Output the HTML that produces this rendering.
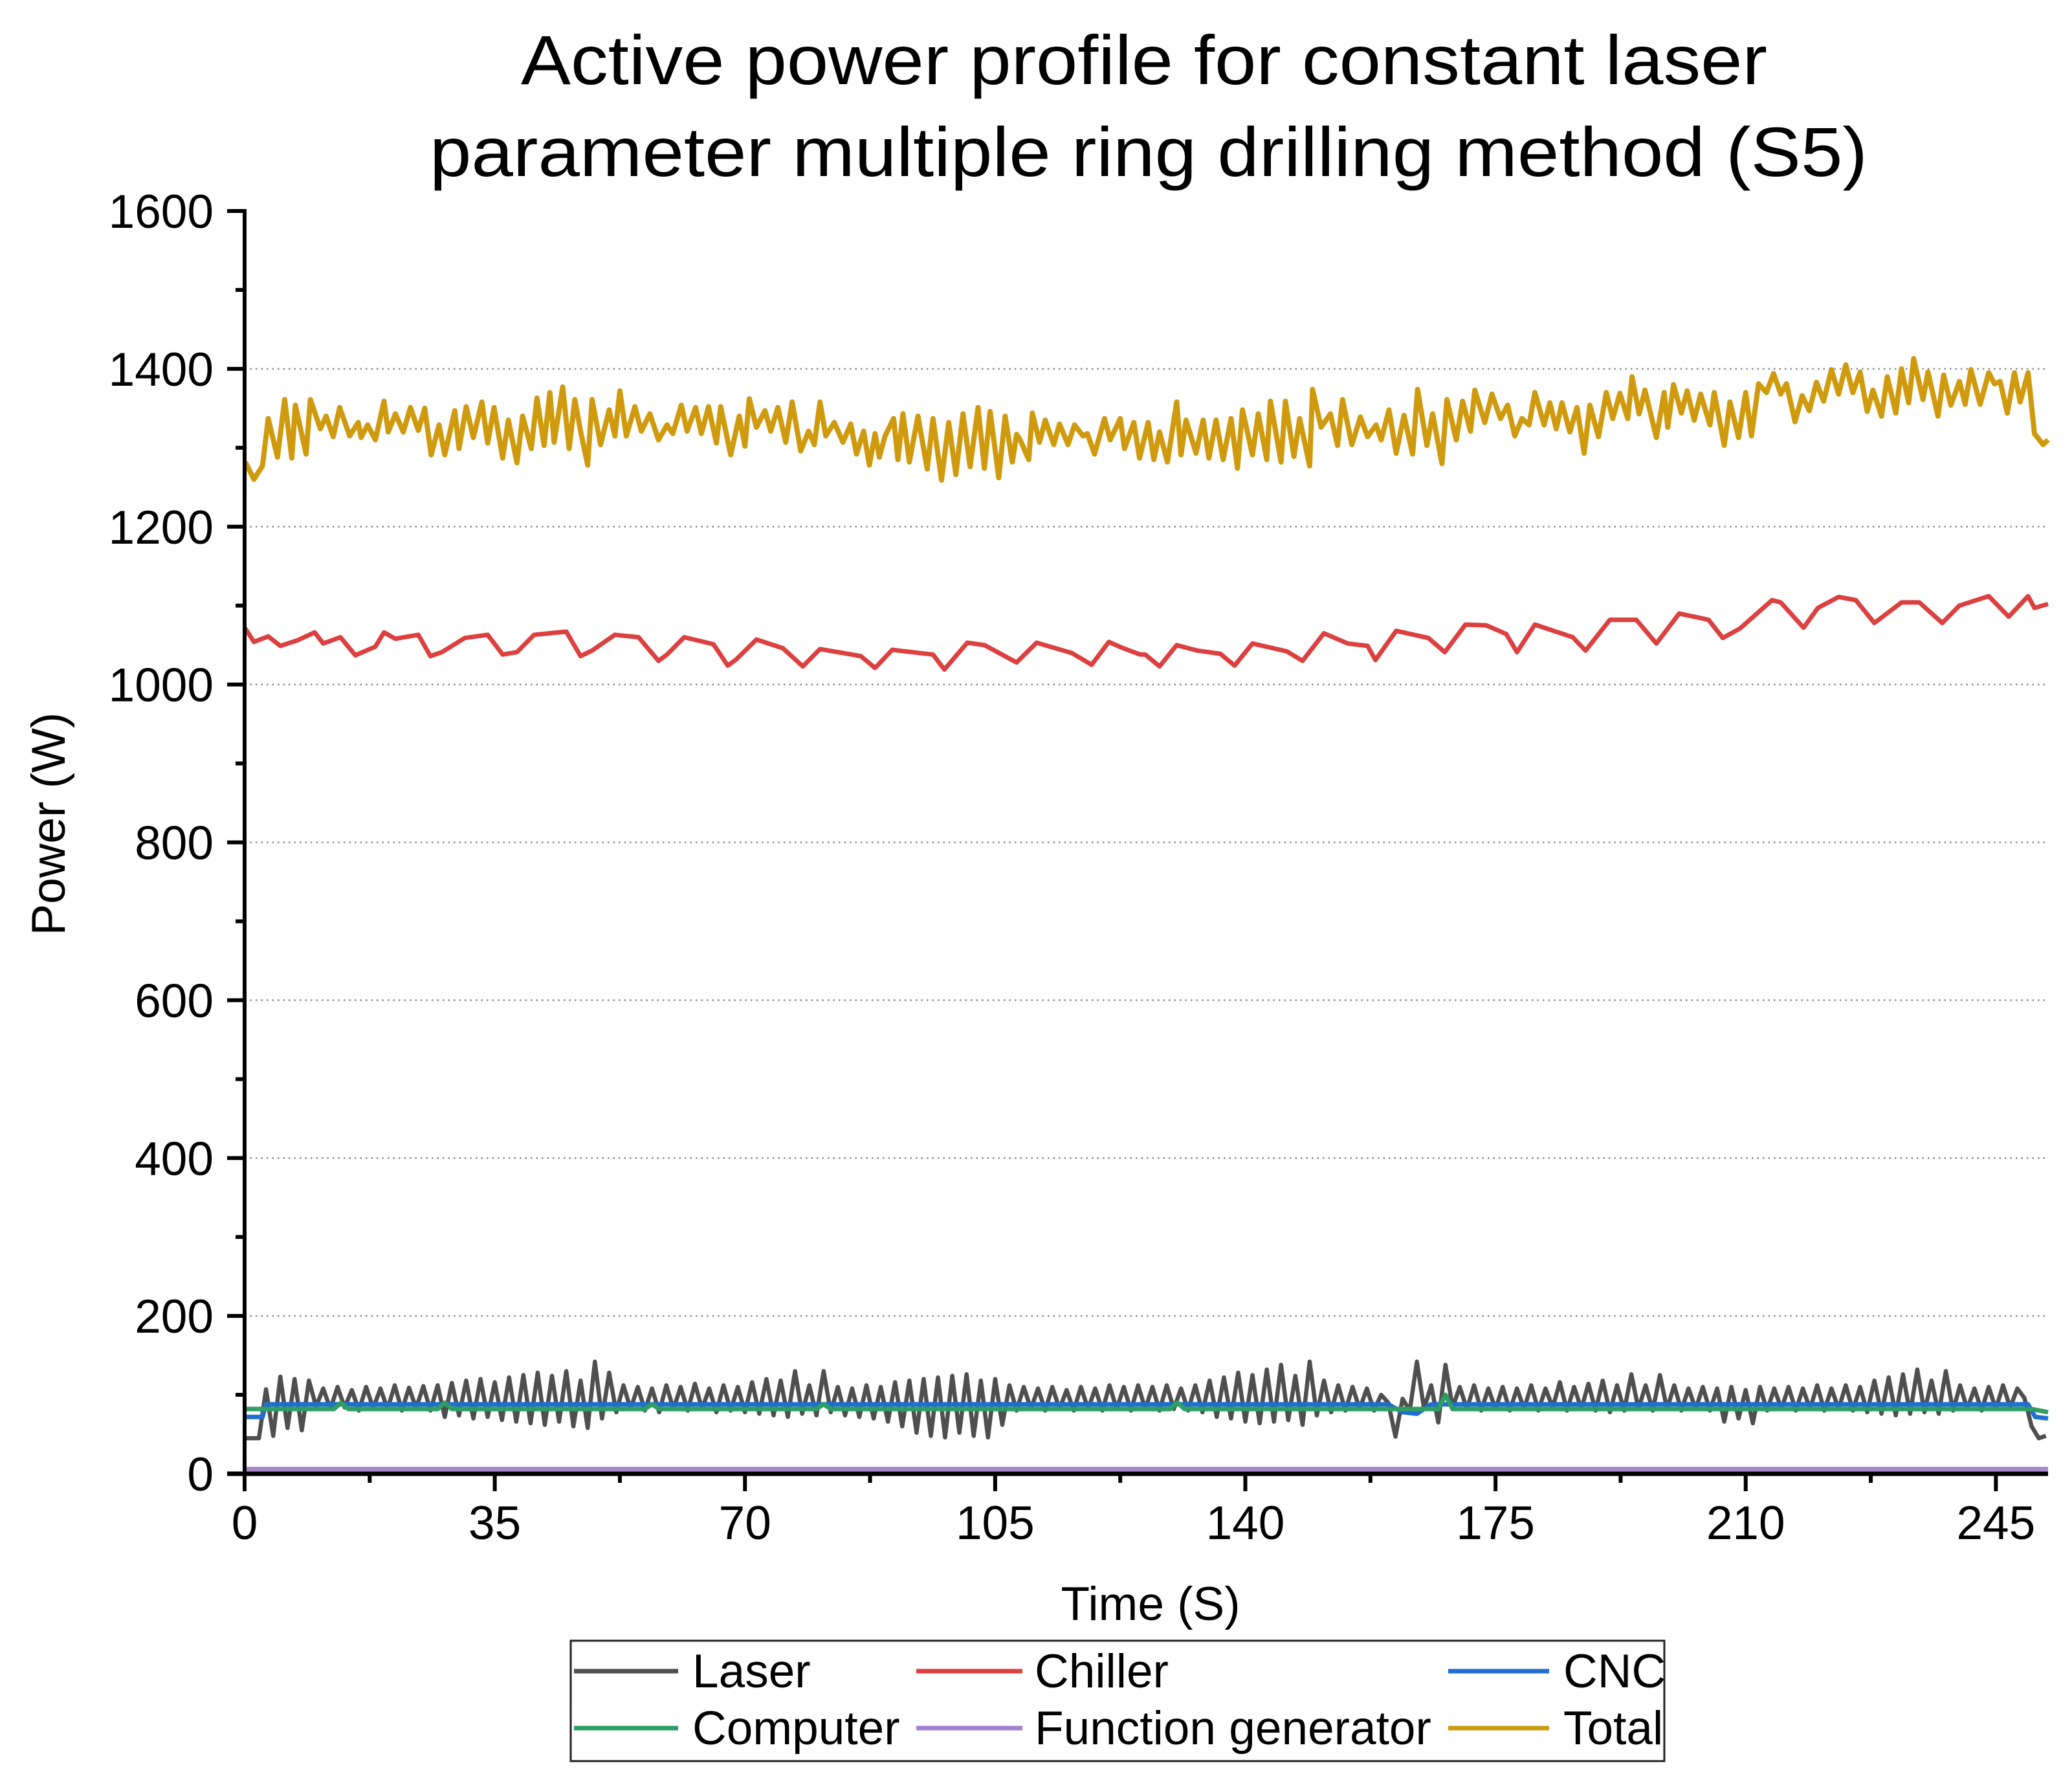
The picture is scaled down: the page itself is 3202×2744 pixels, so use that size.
<!DOCTYPE html>
<html><head><meta charset="utf-8"><title>Active power profile (S5)</title>
<style>
html,body{margin:0;padding:0;background:#fff;}
svg{display:block;font-family:"Liberation Sans",Arial,sans-serif;}
</style></head>
<body>
<svg id="chart" width="3202" height="2744" viewBox="0 0 3202 2744" xmlns="http://www.w3.org/2000/svg">
<rect width="3202" height="2744" fill="#fff"/>
<text x="1768" y="130" font-size="108" text-anchor="middle" textLength="1926" lengthAdjust="spacingAndGlyphs">Active power profile for constant laser</text>
<text x="1775" y="272" font-size="108" text-anchor="middle" textLength="2222" lengthAdjust="spacingAndGlyphs">parameter multiple ring drilling method (S5)</text>
<defs><clipPath id="plotClip"><rect x="378" y="300" width="2790" height="1990"/></clipPath></defs>
<g id="grid"></g>
<g id="series" clip-path="url(#plotClip)"></g>
<g id="axes"></g>
<text x="1778" y="2503" font-size="73" text-anchor="middle">Time (S)</text>
<text x="0" y="0" font-size="73" text-anchor="middle" transform="translate(100,1273) rotate(-90)">Power (W)</text>
<g id="legend">
  <rect x="882" y="2535" width="1690" height="186" fill="#fff" stroke="#222" stroke-width="3"/>
</g>
</svg>
<script>
const NS = "http://www.w3.org/2000/svg";
const yTicks = [0,200,400,600,800,1000,1200,1400,1600];
const xTicks = [0,35,70,105,140,175,210,245];
const seriesNames = ["Laser","Chiller","CNC","Computer","Function generator","Total"];

const totalTimes = [0.1,1.3,2.5,3.3,4.6,5.6,6.6,7.1,8.6,9.2,10.6,11.4,12.4,13.3,14.7,15.9,16.3,17.2,18.3,19.5,20.1,21.1,22.2,23.2,24.3,25.2,26.1,27.2,28.0,29.4,30.0,31.0,32.0,33.2,34.0,34.9,36.1,36.9,38.1,38.9,40.1,40.9,41.9,42.7,43.3,44.5,45.4,46.2,47.0,48.0,48.6,49.8,51.0,51.8,52.5,53.4,54.6,55.5,56.7,57.9,59.1,59.9,61.1,61.9,63.1,63.9,64.9,66.0,66.6,68.0,69.2,70.0,70.6,71.6,72.8,73.6,74.6,75.7,76.6,77.8,78.9,79.7,80.5,81.3,82.5,83.7,84.8,85.6,86.6,87.4,88.2,88.8,89.6,90.8,91.4,92.1,93.0,94.2,95.5,96.3,97.5,98.5,99.5,100.5,101.5,102.6,103.5,104.3,105.5,106.4,107.4,108.0,108.5,109.7,110.2,111.2,112.0,113.2,114.0,115.2,116.1,117.3,117.9,118.9,120.3,121.1,122.5,123.1,124.4,125.2,
126.4,127.2,128.0,129.1,130.4,131.0,131.7,133.1,134.1,134.9,135.9,136.9,138.0,138.9,139.6,141.0,141.8,143.0,143.5,145.0,145.6,146.8,147.6,149.0,149.4,150.6,151.9,152.9,153.6,154.9,156.1,157.1,158.3,159.0,160.1,161.1,162.2,163.4,164.1,165.4,166.2,167.5,168.2,169.5,170.4,171.5,172.1,173.5,174.5,175.7,176.7,177.7,178.7,179.7,180.5,181.8,182.6,183.5,184.3,185.4,186.4,187.4,188.2,189.4,190.5,191.4,192.4,193.5,194.1,195.1,195.9,197.5,198.6,199.1,199.9,201.0,201.8,202.8,203.7,205.0,205.6,207.0,207.8,209.0,210.0,210.8,211.8,212.9,213.9,214.9,215.7,216.9,217.9,218.9,219.9,220.9,222.0,223.0,224.0,225.0,226.0,227.0,227.8,229.0,229.8,231.0,231.8,232.8,233.5,234.8,235.5,236.9,237.7,238.7,239.9,240.7,241.5,242.8,244.0,244.8,245.6,246.6,247.6,248.4,249.5,250.4,251.6,252.3];
const totalValues = [1282,1260,1277,1337,1288,1361,1287,1354,1292,1361,1324,1340,1314,1351,1315,1332,1313,1329,1310,1359,1320,1343,1320,1351,1322,1350,1291,1329,1291,1347,1299,1352,1313,1358,1306,1351,1287,1335,1281,1340,1299,1363,1303,1370,1307,1377,1299,1361,1321,1278,1361,1304,1348,1315,1372,1315,1352,1321,1343,1310,1329,1318,1354,1321,1351,1318,1352,1306,1352,1291,1340,1302,1362,1326,1347,1321,1351,1307,1358,1296,1321,1304,1358,1315,1332,1307,1330,1292,1321,1278,1318,1288,1315,1337,1285,1343,1282,1340,1273,1337,1259,1332,1266,1343,1276,1351,1274,1346,1262,1340,1282,1317,1310,1285,1344,1307,1335,1304,1330,1304,1329,1315,1318,1292,1337,1310,1337,1299,1332,1287,
1332,1285,1320,1282,1358,1291,1335,1293,1335,1287,1335,1285,1337,1274,1348,1291,1343,1285,1359,1282,1359,1289,1337,1277,1374,1326,1343,1303,1361,1304,1339,1314,1329,1310,1348,1293,1341,1292,1374,1303,1343,1280,1361,1310,1359,1321,1373,1332,1368,1337,1354,1315,1337,1329,1370,1329,1357,1324,1357,1320,1351,1293,1354,1314,1370,1337,1369,1337,1390,1343,1373,1313,1370,1326,1380,1344,1372,1335,1368,1329,1370,1303,1358,1313,1370,1315,1381,1370,1394,1368,1381,1333,1366,1347,1383,1359,1399,1368,1405,1370,1396,1346,1373,1340,1390,1344,1400,1357,1413,1361,1396,1340,1392,1354,1384,1355,1399,1355,1395,1381,1384,1344,1395,1358,1395,1318,1304,1310];

const chillerTimes = [0.1,1.3,3.3,5.0,7.4,9.8,11.0,13.4,15.5,18.3,19.5,21.1,24.3,26.0,27.6,30.8,34.0,36.1,38.1,40.5,45.0,47.0,48.6,51.8,55.1,57.9,59.1,61.5,65.6,67.6,68.8,71.6,75.3,78.1,80.5,86.2,88.2,90.6,96.3,97.9,101.1,103.5,108.0,110.8,115.7,118.5,120.9,122.9,125.3,126.0,128.0,130.4,133.3,136.5,138.5,141.0,145.8,148.0,151.0,154.3,157.1,158.2,161.1,165.6,167.9,170.8,173.7,176.5,178.0,180.5,185.8,187.6,191.0,194.7,197.5,200.7,204.8,206.8,209.2,213.7,214.9,218.1,220.1,223.0,225.4,228.0,231.8,234.3,237.5,239.9,244.0,246.8,249.5,250.4,252.3];
const chillerValues = [1071,1054,1061,1049,1056,1066,1052,1060,1037,1048,1066,1058,1063,1036,1041,1059,1063,1038,1041,1063,1067,1036,1043,1063,1060,1030,1038,1060,1051,1024,1032,1057,1046,1023,1045,1036,1021,1044,1038,1019,1053,1050,1028,1053,1040,1025,1054,1046,1038,1038,1023,1050,1043,1039,1024,1052,1042,1030,1065,1052,1049,1031,1068,1059,1041,1076,1075,1064,1041,1076,1060,1043,1082,1082,1052,1090,1082,1059,1071,1107,1104,1072,1097,1111,1107,1078,1104,1104,1078,1100,1112,1086,1112,1097,1102];

const laserValues = [45,45,45,107,48,123,58,120,55,118,85,
108,82,110,84,106,80,110,83,108,82,112,80,109,83,111,80,112,
72,115,74,118,70,120,72,116,68,122,66,125,64,128,62,124,66,130,
60,118,58,142,70,128,78,112,82,110,80,108,78,112,82,110,80,114,82,108,78,112,80,110,78,
116,76,120,74,118,72,130,76,112,74,130,78,110,74,108,72,112,70,110,66,
116,60,118,52,120,48,122,46,124,52,126,48,118,46,120,62,112,80,110,82,
108,80,110,82,106,80,110,82,108,80,112,82,110,80,112,82,110,80,112,82,
108,80,112,78,118,72,122,70,128,66,125,64,132,66,138,68,124,62,142,74,
118,78,112,80,110,82,108,80,100,90,47,95,80,142,82,112,65,138,84,110,
82,112,80,108,82,110,80,108,82,112,80,108,84,116,80,110,82,114,80,118,
78,112,80,126,82,112,80,125,82,112,80,108,82,110,80,108,66,110,70,106,
64,110,80,108,82,110,80,108,82,112,80,108,82,112,80,110,78,118,76,122,
74,126,76,132,78,118,76,130,80,112,82,108,80,110,82,112,84,108,96,60,45,48];
const laserStep = 1;

const cncTimes = [0,2.5,3,160,162,164,166,249.5,250.5,252.3];
const cncValues = [72,72,88,88,78,76,88,88,72,70];

const computerTimes = [0,12.5,13.5,14.5,27,28,29,56,57,58,80,81,82,129.5,130.5,131.5,167,168,169,250,252.3];
const computerValues = [82,82,90,82,82,90,82,82,88,82,82,88,82,82,90,82,82,100,82,82,78];

const fgTimes = [0,252.3];
const fgValues = [6,6];

const X0 = 378, XMAXPX = 3165, XMAX = 252.3;
const Y0 = 2277, YTOP = 326, YMAX = 1600;
function xs(t){ return X0 + (t / XMAX) * (XMAXPX - X0); }
function ys(v){ return Y0 - (v / YMAX) * (Y0 - YTOP); }

function mk(tag, attrs, parent){
  const el = document.createElementNS(NS, tag);
  for (const k in attrs) el.setAttribute(k, attrs[k]);
  parent.appendChild(el);
  return el;
}

const grid = document.getElementById('grid');
const axes = document.getElementById('axes');
const series = document.getElementById('series');
const legend = document.getElementById('legend');

yTicks.forEach(v => {
  if (v === 0 || v === 1600) return;
  const l = mk('line', {x1: X0, x2: XMAXPX, y1: ys(v), y2: ys(v), stroke: '#8a8a8a', 'stroke-width': 2.5, 'stroke-dasharray': '2.5 6'}, grid);
  
  
});

for (let v = 0; v <= 1600; v += 100) {
  const major = v % 200 === 0;
  const t = mk('line', {x1: X0 - (major ? 27 : 14), x2: X0, y1: ys(v), y2: ys(v), stroke: '#000', 'stroke-width': 6}, axes);
  
  
}
yTicks.forEach(v => {
  const tx = mk('text', {x: 330, y: ys(v) + 26, 'font-size': 73, 'text-anchor': 'end'}, axes);
  tx.textContent = v;
  
  
});
for (let k = 0; k * 17.5 <= XMAX; k++) {
  const v = k * 17.5;
  const major = k % 2 === 0;
  const t = mk('line', {x1: xs(v), x2: xs(v), y1: Y0, y2: Y0 + (major ? 27 : 14), stroke: '#000', 'stroke-width': 6}, axes);
  
  
}
xTicks.forEach(v => {
  const tx = mk('text', {x: xs(v), y: 2378, 'font-size': 73, 'text-anchor': 'middle'}, axes);
  tx.textContent = v;
  
  
});
const ya = mk('line', {x1: X0, x2: X0, y1: YTOP - 3, y2: Y0 + 27, stroke: '#000', 'stroke-width': 6}, axes);


const xa = mk('line', {x1: 351, x2: XMAXPX, y1: Y0, y2: Y0, stroke: '#000', 'stroke-width': 7}, axes);



function drawLine(times, values, color, width, name){
  let d = '';
  for (let i = 0; i < values.length; i++) {
    d += (i ? 'L' : 'M') + xs(times[i]).toFixed(1) + ' ' + ys(values[i]).toFixed(1);
  }
  const p = mk('path', {d: d, fill: 'none', stroke: color, 'stroke-width': width, 'stroke-linejoin': 'round'}, series);
  
  
}
const laserTimes = laserValues.map((_, i) => i * laserStep);

drawLine(fgTimes, fgValues, '#a888c8', 7, 'series-function-generator');
drawLine(laserTimes, laserValues, '#4f4f4f', 6.5, 'series-laser');
drawLine(cncTimes, cncValues, '#1f6fd0', 7, 'series-cnc');
drawLine(computerTimes, computerValues, '#2e9e62', 7, 'series-computer');
drawLine(chillerTimes, chillerValues, '#dc4040', 7, 'series-chiller');
drawLine(totalTimes, totalValues, '#cf9a0e', 8, 'series-total');

const legendColors = ['#4f4f4f','#dc4040','#1f6fd0','#2e9e62','#a77fd2','#cf9a0e'];
const legCols = [[887, 1048, 1070],[1416, 1580, 1599],[2238, 2394, 2416]];
const legRows = [[2582, 2607],[2670, 2695]];
seriesNames.forEach((n, i) => {
  const c = legCols[i % 3], r = legRows[Math.floor(i / 3)];
  const l = mk('line', {x1: c[0], x2: c[1], y1: r[0], y2: r[0], stroke: legendColors[i], 'stroke-width': 7}, legend);
  
  
  const tx = mk('text', {x: c[2], y: r[1], 'font-size': 73}, legend);
  tx.textContent = n;
  
  
});
</script>
</body></html>
